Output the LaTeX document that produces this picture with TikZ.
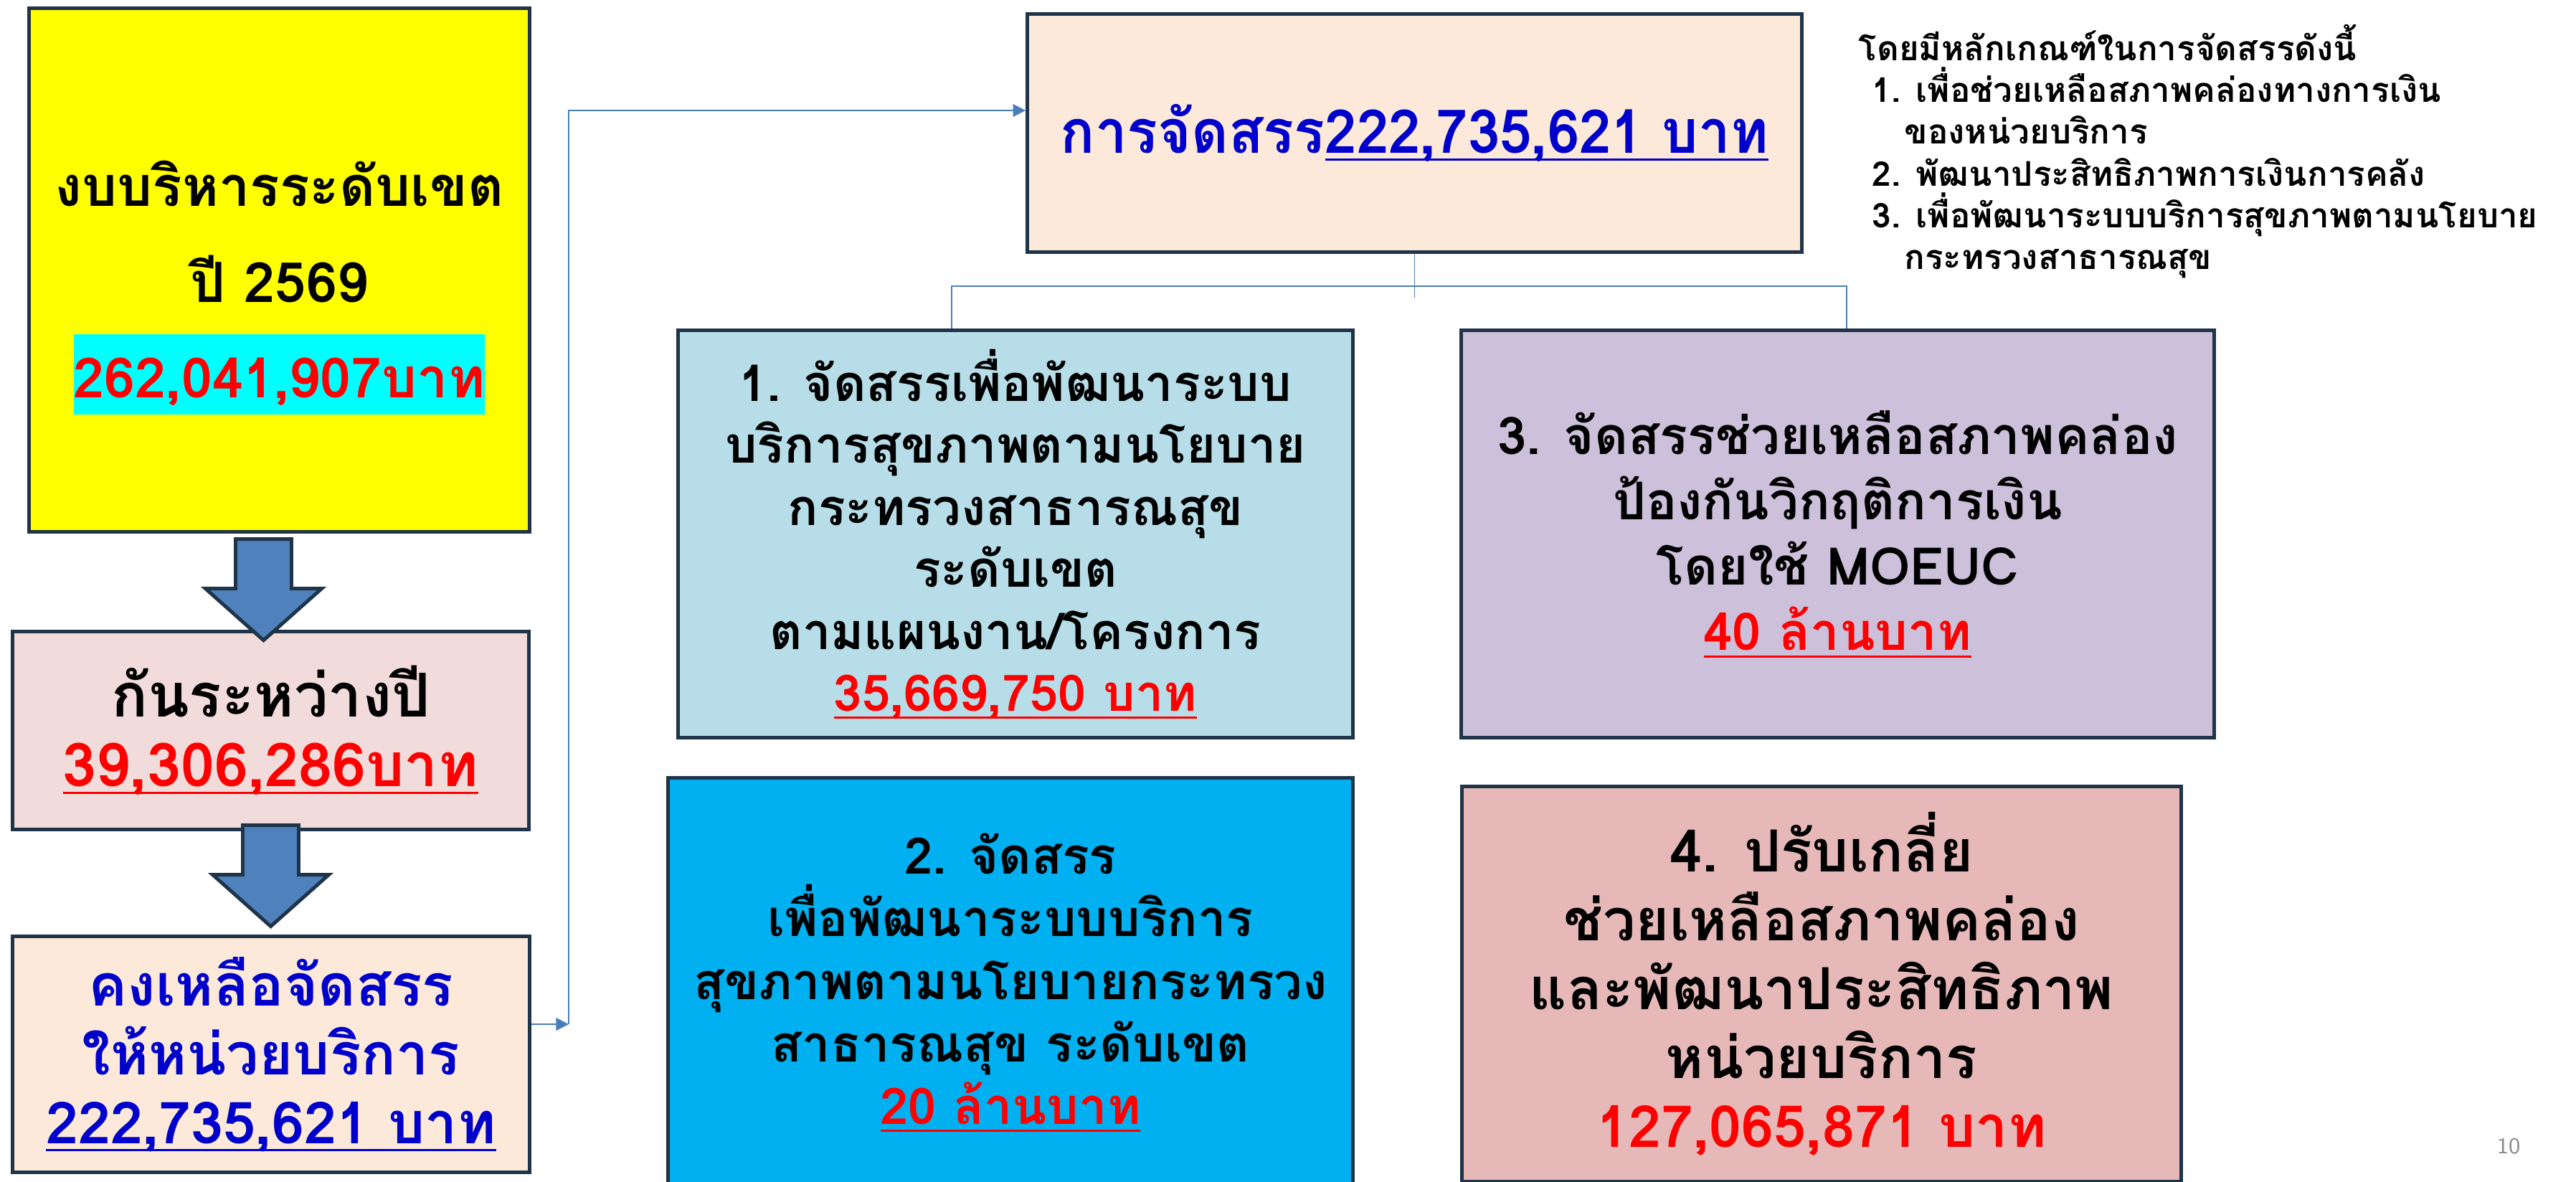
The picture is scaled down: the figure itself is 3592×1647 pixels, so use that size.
\documentclass[tikz,border=0pt]{standalone}
\usepackage{fontspec}
\usepackage{graphicx}
\newfontfamily\thaifont[Script=Thai]{Loma}
\usetikzlibrary{arrows.meta}
\definecolor{navy}{HTML}{1F3449}
\definecolor{yellowbox}{HTML}{FFFF00}
\definecolor{aqua}{HTML}{00FFFF}
\definecolor{reservepink}{HTML}{F2DCDB}
\definecolor{peach}{HTML}{FDE9D9}
\definecolor{planblue}{HTML}{B7DEE8}
\definecolor{lavender}{HTML}{CCC0DA}
\definecolor{skyblue}{HTML}{00B0F0}
\definecolor{rose}{HTML}{E6B9B8}
\definecolor{arrowblue}{HTML}{4F81BD}
\definecolor{linkblue}{HTML}{4A7EBB}
\definecolor{textblue}{HTML}{0000CC}
\definecolor{pagegray}{HTML}{8C8C8C}
\newcommand\ulnum[1]{\setbox0\hbox{#1}\rlap{\rule[-3pt]{\wd0}{0.9pt}}\box0}
\newcommand\fs[2]{\fontsize{#1}{#2}\selectfont}
\tikzset{
  box/.style={draw=navy,line width=1.4pt,align=center,inner sep=0pt},
  link/.style={draw=linkblue,line width=0.6pt},
  tip/.style={-{Triangle[length=5pt,width=5pt]}},
  pics/downarrow/.style={code={
    \draw[fill=arrowblue,draw=navy,line width=1.4pt,line join=miter]
      (-39,0)--(-39,69)--(-81,69)--(0,141)--(81,69)--(39,69)--(39,0)--cycle;}}
}
\begin{document}
\begin{tikzpicture}[x=0.01cm,y=-0.01cm,font=\thaifont\bfseries]
\useasboundingbox (0,0) rectangle (3592,1647);
% left column
\node[box,fill=yellowbox,minimum width=69.7mm,minimum height=72.9mm,font=\thaifont\bfseries\fs{22}{38}]
  (budget) at (389.5,376.5) {\rule{0pt}{32pt}งบบริหารระดับเขต\\ปี 2569\\
  {\setlength\fboxsep{0pt}\colorbox{aqua}{\rule[-6.5pt]{0pt}{31.9pt}\textcolor{red}{262,041,907บาท}}}};
\node[box,fill=reservepink,minimum width=71.9mm,minimum height=27.5mm,font=\thaifont\bfseries\fs{24}{27.6}]
  (reserve) at (377.5,1018.5) {กันระหว่างปี\\\textcolor{red}{\ulnum{39,306,286บาท}}};
\node[box,fill=peach,text=textblue,minimum width=72mm,minimum height=32.8mm,font=\thaifont\bfseries\fs{23}{27.3}]
  (remain) at (378,1470) {คงเหลือจัดสรร\\ให้หน่วยบริการ\\\ulnum{222,735,621 บาท}};
\pic at ([shift={(-22,8)}]budget.south) {downarrow};
\pic at ([shift={(0,-8)}]reserve.south) {downarrow};
% allocation
\node[box,fill=peach,text=textblue,minimum width=107.9mm,minimum height=33.1mm,font=\thaifont\bfseries\fs{24}{28}]
  (alloc) at (1972.5,185.5) {\scalebox{0.945}[1]{การจัดสรร\ulnum{222,735,621 บาท}}};
\node[box,fill=planblue,minimum width=94mm,minimum height=56.7mm,font=\thaifont\bfseries\fs{20}{24.6}]
  (plan) at (1416,744.5) {1. จัดสรรเพื่อพัฒนาระบบ\\บริการสุขภาพตามนโยบาย\\กระทรวงสาธารณสุข\\ระดับเขต\\ตามแผนงาน/โครงการ\\\textcolor{red}{\ulnum{35,669,750 บาท}}};
\node[box,fill=lavender,minimum width=104.9mm,minimum height=56.7mm,font=\thaifont\bfseries\fs{20.6}{25.9}]
  (crisis) at (2562.5,744.5) {3. จัดสรรช่วยเหลือสภาพคล่อง\\ป้องกันวิกฤติการเงิน\\โดยใช้ MOEUC\\\textcolor{red}{\ulnum{40 ล้านบาท}}};
\node[box,fill=skyblue,minimum width=95.4mm,minimum height=57mm,font=\thaifont\bfseries\fs{20}{24.8}]
  (devel) at (1409,1370) {2. จัดสรร\\เพื่อพัฒนาระบบบริการ\\สุขภาพตามนโยบายกระทรวง\\สาธารณสุข ระดับเขต\\\textcolor{red}{\ulnum{20 ล้านบาท}}};
\node[box,fill=rose,minimum width=100.2mm,minimum height=55mm,font=\thaifont\bfseries\fs{23}{27.3}]
  (adjust) at (2540,1372) {4. ปรับเกลี่ย\\ช่วยเหลือสภาพคล่อง\\และพัฒนาประสิทธิภาพ\\หน่วยบริการ\\\textcolor{red}{127,065,871 บาท}};
% criteria
\node[anchor=north west,align=left,inner sep=0pt,font=\thaifont\bfseries\fs{13.5}{16.6}]
  (rules) at (2591,33) {โดยมีหลักเกณฑ์ในการจัดสรรดังนี้\\
  \hspace*{5.4pt}1. เพื่อช่วยเหลือสภาพคล่องทางการเงิน\\
  \hspace*{18.2pt}ของหน่วยบริการ\\
  \hspace*{5.4pt}2. พัฒนาประสิทธิภาพการเงินการคลัง\\
  \hspace*{5.4pt}3. เพื่อพัฒนาระบบบริการสุขภาพตามนโยบาย\\
  \hspace*{18.2pt}กระทรวงสาธารณสุข};
\node[anchor=base east,inner sep=0pt,text=pagegray,font=\sffamily\fs{9}{11}] (pagenum) at (3515,1608) {10};
% connectors
\coordinate (bend) at (793,1428);
\coordinate (turn) at (793,154);
\draw[link,tip] (remain.east |- bend) -- (bend);
\draw[link,tip] (bend) -- (turn) -- (turn -| alloc.west);
\coordinate (hub1) at (1327,399);
\coordinate (hub3) at (2575,399);
\draw[link,line width=0.4pt] (alloc.south) -- ++(0,61);
\draw[link] (hub1 |- plan.north) -- (hub1) -- (hub3) -- (hub3 |- crisis.north);
\end{tikzpicture}
\end{document}
